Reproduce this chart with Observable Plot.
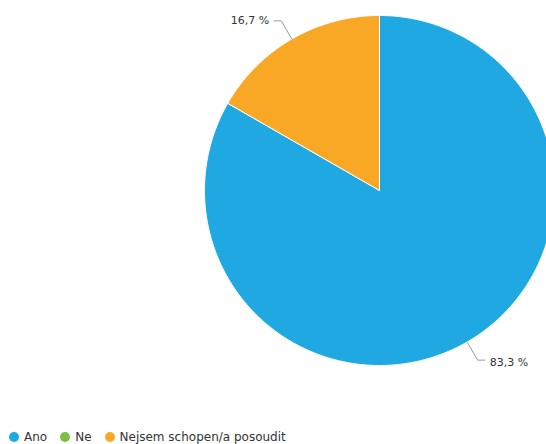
<!DOCTYPE html>
<html><head><meta charset="utf-8">
<script src="https://cdn.jsdelivr.net/npm/d3@7"></script>
<script src="https://cdn.jsdelivr.net/npm/@observablehq/plot@0.6"></script>
<style>
body{margin:0;background:#fff;font-family:"DejaVu Sans",sans-serif;overflow:hidden}
#chart{position:absolute;left:0;top:0}
#legend{position:absolute;left:9px;top:430px;font-size:12px;line-height:14px;color:#333;display:flex;align-items:center;white-space:nowrap}
#legend .it{display:flex;align-items:center;margin-right:13px}
#legend .sw{width:10px;height:10px;border-radius:50%;margin-right:5px;flex:none}
</style></head><body>
<div id="chart"></div><div id="legend"></div>
<script>
const categories = ["Ano", "Ne", "Nejsem schopen/a posoudit"];
const values = [83.3, 0, 16.7];
const labels = ["83,3 %", "", "16,7 %"];
const colors = ["#1fa8e1", "#7dbf43", "#f9a826"];

const arcs = d3.pie().sort(null).value(d => d)(values);
const polys = [];
const leaders = [];
const texts = [];
arcs.forEach((a, i) => {
  if (values[i] <= 0) return;
  const cat = categories[i];
  polys.push({cat, x: 0, y: 0});
  const n = Math.max(2, Math.ceil((a.endAngle - a.startAngle) / 0.01));
  for (let k = 0; k <= n; k++) {
    const t = a.startAngle + (a.endAngle - a.startAngle) * k / n;
    polys.push({cat, x: Math.sin(t), y: Math.cos(t)});
  }
  polys.push({cat, x: 0, y: 0});
  const m = (a.startAngle + a.endAngle) / 2;
  const side = Math.sin(m) >= 0 ? 1 : -1;
  const ex = Math.sin(m) * 1.12, ey = Math.cos(m) * 1.12;
  leaders.push({cat, x: Math.sin(m), y: Math.cos(m)});
  leaders.push({cat, x: ex, y: ey});
  leaders.push({cat, x: ex + side * 0.04, y: ey});
  texts.push({x: ex + side * 0.04, y: ey, text: labels[i], side});
});

const chart = Plot.plot({
  width: 546,
  height: 420,
  style: {fontFamily: "DejaVu Sans", overflow: "visible", background: "white"},
  x: {domain: [-1, 1], range: [204, 554], axis: null},
  y: {domain: [-1, 1], range: [365, 15], axis: null},
  color: {domain: categories, range: colors},
  marks: [
    Plot.line(polys, {x: "x", y: "y", z: "cat", fill: "cat", stroke: "white", strokeWidth: 1, strokeLinejoin: "round"}),
    Plot.line(leaders, {x: "x", y: "y", z: "cat", stroke: "#999", strokeWidth: 1, curve: "linear"}),
    Plot.text(texts.filter(d => d.side > 0), {x: "x", y: "y", text: "text", textAnchor: "start", dx: 5, dy: 2, fontSize: 11, fill: "#333"}),
    Plot.text(texts.filter(d => d.side < 0), {x: "x", y: "y", text: "text", textAnchor: "end", dx: -5, dy: 0, fontSize: 11, fill: "#333"})
  ]
});
document.getElementById("chart").appendChild(chart);

const lg = document.getElementById("legend");
categories.forEach((c, i) => {
  const it = document.createElement("div");
  it.className = "it";
  const sw = document.createElement("div");
  sw.className = "sw";
  sw.style.background = colors[i];
  const tx = document.createElement("span");
  tx.textContent = c;
  it.appendChild(sw); it.appendChild(tx);
  lg.appendChild(it);
});
</script>
</body></html>
